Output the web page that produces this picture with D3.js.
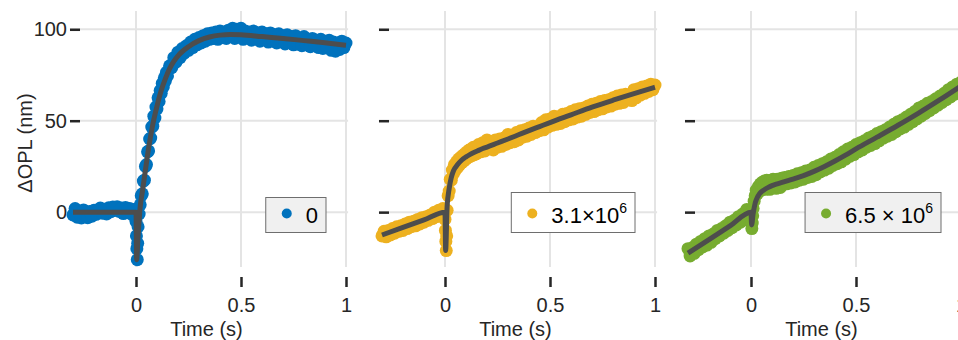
<!DOCTYPE html>
<html>
<head>
<meta charset="utf-8">
<script src="https://cdn.jsdelivr.net/npm/d3@7"></script>
<style>
  body { margin: 0; background: #fff; }
  svg { display: block; }
</style>
</head>
<body>
<div id="chart"></div>
<script>
// sample times (s), shared by the three recordings
const times = [
  -0.30, -0.29, -0.28, -0.27, -0.26, -0.25, -0.24, -0.23, -0.22, -0.21,
  -0.20, -0.19, -0.18, -0.17, -0.16, -0.15, -0.14, -0.13, -0.12, -0.11,
  -0.10, -0.09, -0.08, -0.07, -0.06, -0.05, -0.04, -0.03, -0.02, -0.01,
  0, 0.002, 0.004, 0.006, 0.008,
  0.010, 0.015, 0.020, 0.025, 0.030, 0.035, 0.040, 0.045, 0.050, 0.055,
  0.060, 0.065, 0.070, 0.075, 0.080, 0.085, 0.090, 0.095, 0.100, 0.105,
  0.110, 0.115, 0.120, 0.125, 0.130, 0.135, 0.140, 0.145, 0.150,
  0.16, 0.17, 0.18, 0.19, 0.20, 0.21, 0.22, 0.23, 0.24, 0.25,
  0.26, 0.27, 0.28, 0.29, 0.30, 0.31, 0.32, 0.33, 0.34, 0.35,
  0.36, 0.37, 0.38, 0.39, 0.40, 0.41, 0.42, 0.43, 0.44, 0.45,
  0.46, 0.47, 0.48, 0.49, 0.50, 0.51, 0.52, 0.53, 0.54, 0.55,
  0.56, 0.57, 0.58, 0.59, 0.60, 0.61, 0.62, 0.63, 0.64, 0.65,
  0.66, 0.67, 0.68, 0.69, 0.70, 0.71, 0.72, 0.73, 0.74, 0.75,
  0.76, 0.77, 0.78, 0.79, 0.80, 0.81, 0.82, 0.83, 0.84, 0.85,
  0.86, 0.87, 0.88, 0.89, 0.90, 0.91, 0.92, 0.93, 0.94, 0.95,
  0.96, 0.97, 0.98, 0.99, 1.00
]

// measured dOPL (nm)
const opl0 = [
  -1.5, 2.0, -2.8, 0.5, -3.2, 1.2, -1.8, -3.0, 0.4, -2.2,
  1.0, -1.2, 0.8, 2.2, -0.6, 1.6, -1.0, 2.4, 0.2, 2.8,
  1.0, 3.0, 0.4, 2.2, -0.8, 2.6, 0.8, 2.0, -1.2, 1.5,
  -5, -13, -20, -26, -17,
  -8, -1, 4, 9, 10, 17, 17.5, 25, 26, 33,
  33.5, 40, 40.5, 46.5, 47, 52.5, 51.5, 57.5, 56.5, 62.5,
  60.5, 66.5, 65, 70.5, 68.5, 73.5, 71.8, 76.5, 74.5,
  80, 79, 84.5, 82, 87.5, 84.5, 89.5, 87, 91, 88.5,
  93, 90, 94.5, 91.5, 95.5, 92.5, 96.5, 93.5, 97.5, 94.5,
  98, 95, 98.5, 94.5, 99, 95.5, 98.5, 95, 99.5, 96,
  100.5, 95, 100, 96.5, 100.5, 94.5, 99, 95.5, 98.5, 94,
  99, 95, 98, 93.5, 98.5, 94.5, 97.5, 93, 98, 94,
  97, 92.5, 97.5, 93.5, 96.5, 92, 97, 93, 96, 91.5,
  96.5, 92, 95, 91, 96, 91.5, 94.5, 90.5, 95, 91,
  94, 90, 94.5, 89.5, 93.5, 90, 94, 88.5, 93, 88,
  92.5, 89, 93.5, 90, 92.5
]

const opl31 = [
  -13, -10.5, -13.5, -10, -12.5, -9, -11.5, -8, -10.5, -7.5,
  -10, -6.5, -9, -5.5, -8, -5, -7.5, -4, -6.5, -3,
  -5.5, -2.5, -4.5, -1.5, -3.5, 0, -2.5, 1, -1.5, 2,
  -4, -10, -16, -21, -13,
  1, 9, 11.5, 18, 17.5, 23, 21, 26, 23, 27.5,
  24.5, 29, 26, 30, 27, 31, 28, 32, 29, 33,
  30, 34, 30.5, 34.5, 31, 35.5, 31.5, 35, 32,
  37, 33, 38, 33.5, 39.5, 35, 38.5, 34, 39.5, 35.5,
  40, 36, 40.5, 37, 42.5, 38, 42, 38.5, 43.5, 39.5,
  44.5, 41, 45, 41.5, 46, 42.5, 47, 43.5, 46.5, 44.5,
  49, 45, 50.5, 46.5, 51, 47.5, 52.5, 48, 52, 48.5,
  53.5, 49.5, 54, 50.5, 55, 51, 56, 52, 56.5, 52.5,
  57, 53.5, 58, 54.5, 59, 55, 59.5, 56, 60.5, 56.5,
  61, 57.5, 61.5, 58, 62.5, 59, 63.5, 59.5, 64, 60,
  64.5, 61.5, 64, 61, 67, 62.5, 67.5, 64, 68.5, 65,
  69, 66, 70, 67, 69.5
]

const opl65 = [
  -20, -24, -19.5, -22.5, -17.5, -20.5, -16, -19, -14.5, -18,
  -13, -16.5, -12, -14.5, -10, -13, -9, -11.5, -7.5, -10,
  -5.5, -8.5, -4.5, -7, -2.5, -5.5, -1, -4, 1.5, -1.5,
  -3, -6, -9, -6, -2,
  2, 6, 9, 12, 10, 14, 11.5, 15.5, 12, 16.5,
  13, 17, 12.5, 17.5, 13.5, 16.5, 12.5, 17.5, 13.5, 18,
  14, 17.5, 13, 18, 14.5, 17, 13.5, 18.5, 15,
  19, 15.5, 19.5, 16, 20, 16.5, 21, 17.5, 21.5, 18,
  22.5, 19, 23, 19.5, 24.5, 20.5, 25.5, 22, 26.5, 23,
  27.5, 24, 29, 25.5, 30, 26.5, 31.5, 27.5, 33, 29,
  34.5, 30.5, 35.5, 31.5, 37, 33, 38, 34, 39, 35.5,
  40.5, 36.5, 41.5, 37.5, 43, 39, 44, 40.5, 45, 41.5,
  46.5, 42.5, 48, 44, 49.5, 45.5, 50.5, 46.5, 52, 48,
  53.5, 49.5, 55, 51, 57, 52.5, 58, 54, 59.5, 55.5,
  60.5, 57, 62, 58.5, 63.5, 60, 65, 61.5, 67, 63,
  68.5, 64.5, 70, 66.5, 71
]

// fitted model curves
const fitTimes = [
  -0.3, -0.2, -0.1, 0, 0.003, 0.01, 0.02, 0.03, 0.04, 0.06,
  0.08, 0.1, 0.12, 0.14, 0.16, 0.18, 0.2, 0.25, 0.3, 0.35,
  0.4, 0.45, 0.5, 0.6, 0.7, 0.8, 0.9, 1.0
]
const fit0 = [
  0, 0, 0, 0, -26, -13, 3, 11, 19, 35,
  48, 58, 66.5, 73, 78.5, 82.5, 85.5, 90.5, 93.8, 95.8,
  96.8, 97.1, 97, 96, 95, 93.8, 92.6, 91.3
]
const fit31 = [
  -12.5, -8.3, -4.2, 0, -21, 3, 13, 19, 22.5, 26,
  28.5, 30.2, 31.6, 32.8, 33.8, 34.8, 35.6, 37.8, 40, 42.3,
  44.6, 46.8, 49, 53.2, 57.4, 61.2, 64.8, 68.3
]
const fit65 = [
  -22.4, -15, -7.5, 0, -7, -1, 5, 8, 10, 12,
  13.4, 14.5, 15.3, 16, 16.7, 17.4, 18.1, 20, 22.3, 25,
  28, 31.2, 34.6, 41, 47.5, 54.3, 61.5, 69
]

const legendLabels = ['0', '3.1\u00d710', '6.5 \u00d7 10']
const legendExponents = ['', '6', '6']

const xTicks = [0, 0.5, 1]
const xTickLabels = ['0', '0.5', '1']
const yTicks = [0, 50, 100]
const yTickLabels = ['0', '50', '100']

const width = 958
const height = 340
const font = "'Liberation Sans', Arial, Helvetica, sans-serif"
const textColor = '#262626'

const svg = d3
  .select('#chart')
  .append('svg')
  .attr('width', width)
  .attr('height', height)
  .attr('font-family', font)

const xPositionScale = d3.scaleLinear().domain([-0.3, 1]).range([73, 346])
const yPositionScale = d3.scaleLinear().domain([-30, 110]).range([267, 11])

const line = d3
  .line()
  .x(d => xPositionScale(d[0]))
  .y(d => yPositionScale(d[1]))
  .curve(d3.curveMonotoneX)

const panels = [
  { values: opl0, fit: fit0, color: '#0072BD', offset: 0, legendFill: '#f0f0f0' },
  { values: opl31, fit: fit31, color: '#EDB120', offset: 309, legendFill: '#ffffff' },
  { values: opl65, fit: fit65, color: '#77AC30', offset: 615, legendFill: '#f0f0f0' }
]

panels.forEach((p, i) => {
  const g = svg.append('g').attr('transform', 'translate(' + p.offset + ',0)')

  // grid
  g.selectAll('.vgrid')
    .data(xTicks)
    .enter()
    .append('line')
    .attr('x1', d => xPositionScale(d))
    .attr('x2', d => xPositionScale(d))
    .attr('y1', yPositionScale.range()[1])
    .attr('y2', yPositionScale.range()[0])
    .attr('stroke', '#e4e4e4')
    .attr('stroke-width', 2)

  g.selectAll('.hgrid')
    .data(yTicks)
    .enter()
    .append('line')
    .attr('x1', xPositionScale(-0.315))
    .attr('x2', xPositionScale(1.01))
    .attr('y1', d => yPositionScale(d))
    .attr('y2', d => yPositionScale(d))
    .attr('stroke', '#e4e4e4')
    .attr('stroke-width', 2)

  // axes
  const xAxis = d3
    .axisBottom(xPositionScale)
    .tickValues(xTicks)
    .tickFormat((d, k) => xTickLabels[k])
    .tickSize(10)
    .tickPadding(11)

  g.append('g')
    .attr('class', 'axis x-axis')
    .attr('transform', 'translate(0,277)')
    .call(xAxis)

  const yAxis = d3
    .axisLeft(yPositionScale)
    .tickValues(yTicks)
    .tickFormat((d, k) => (i === 0 ? yTickLabels[k] : ''))
    .tickSizeInner(-10)
    .tickPadding(3)

  g.append('g')
    .attr('class', 'axis y-axis')
    .attr('transform', 'translate(' + (xPositionScale(-0.3) - 3) + ',0)')
    .call(yAxis)

  g.selectAll('.axis')
    .attr('font-family', font)
    .attr('font-size', 20)
  g.selectAll('.axis .domain').remove()
  g.selectAll('.axis line')
    .attr('stroke', textColor)
    .attr('stroke-width', 2.5)
  g.selectAll('.axis text').attr('fill', textColor)

  g.append('text')
    .attr('x', xPositionScale(0.35) - 3)
    .attr('y', 336)
    .attr('text-anchor', 'middle')
    .attr('font-size', 20)
    .attr('fill', textColor)
    .text('Time (s)')

  // data + fit
  g.selectAll('.dot')
    .data(d3.zip(times, p.values))
    .enter()
    .append('circle')
    .attr('cx', d => xPositionScale(d[0]))
    .attr('cy', d => yPositionScale(d[1]))
    .attr('r', 6.5)
    .attr('fill', p.color)

  g.append('path')
    .datum(d3.zip(fitTimes, p.fit))
    .attr('d', line)
    .attr('fill', 'none')
    .attr('stroke', '#4d4d4d')
    .attr('stroke-width', 5)
    .attr('stroke-linejoin', 'round')

  // legend, right aligned inside the panel
  const right = xPositionScale(0) + 190
  const bottom = 232.5
  const boxH = legendExponents[i] ? 40 : 35
  const leg = g.append('g')
  const box = leg.append('rect')
  const label = leg.append('text')
    .attr('y', 222.5)
    .attr('font-size', 22)
    .attr('fill', '#000')
  label.append('tspan').text(legendLabels[i])
  if (legendExponents[i]) {
    label.append('tspan')
      .attr('font-size', 14)
      .attr('dy', -9.5)
      .text(legendExponents[i])
  }
  const tw = label.node().getComputedTextLength()
  const left = right - tw - 48
  label.attr('x', left + 40)
  box
    .attr('x', left)
    .attr('y', bottom - boxH)
    .attr('width', right - left)
    .attr('height', boxH)
    .attr('fill', p.legendFill)
    .attr('stroke', '#6e6e6e')
    .attr('stroke-width', 1)
  leg.append('circle')
    .attr('cx', left + 21)
    .attr('cy', 213.5)
    .attr('r', 5)
    .attr('fill', p.color)
})

svg.append('text')
  .attr('transform', 'translate(32,143) rotate(-90)')
  .attr('text-anchor', 'middle')
  .attr('font-size', 20)
  .attr('fill', textColor)
  .text('\u0394OPL (nm)')
</script>
</body>
</html>
